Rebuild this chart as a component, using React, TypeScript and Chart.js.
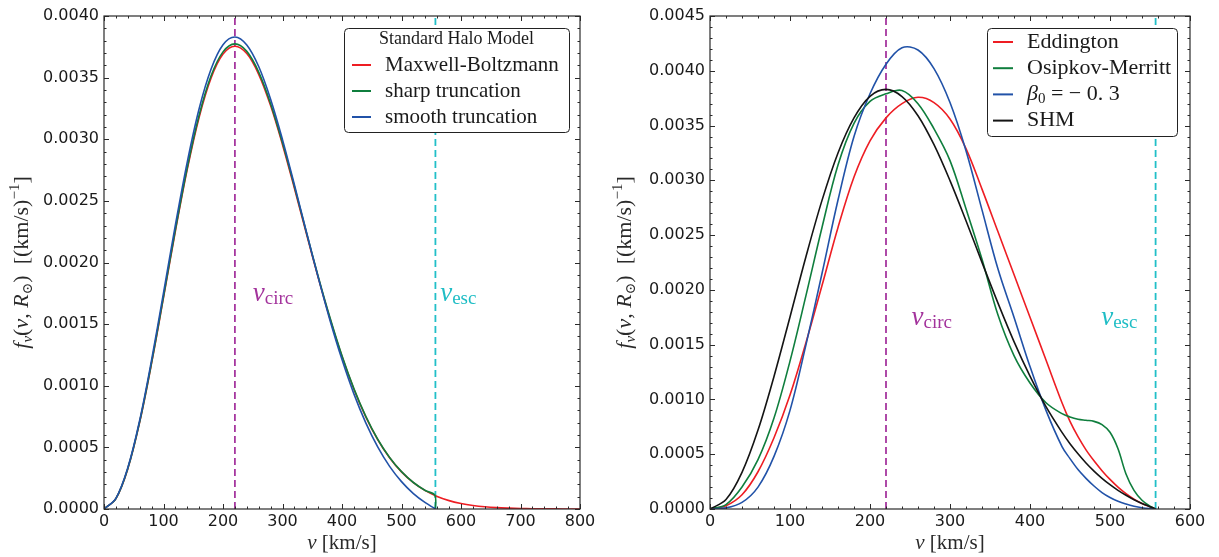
import React, { useEffect, useRef } from "react";
import { Chart, registerables } from "chart.js";

Chart.register(...registerables);

// ---------------- data ----------------
const V_CIRC = 220;
const V_ESC = 557;

// left panel: Standard Halo Model variants
const LEFT_V_MB = [0, 20, 40, 60, 80, 100, 120, 140, 160, 180, 200, 220, 240, 260, 280, 300, 320, 340, 360, 380, 400, 420, 440, 460, 480, 500, 520, 540, 560, 580, 600, 620, 640, 660, 680, 700, 720, 740, 760, 780, 800];
const LEFT_MAXWELL_BOLTZMANN = [0, 0.000084, 0.000326, 0.000705, 0.001183, 0.001715, 0.002255, 0.002757, 0.003181, 0.003498, 0.003691, 0.003755, 0.003695, 0.003527, 0.003273, 0.002956, 0.002603, 0.002237, 0.001878, 0.001541, 0.001237, 0.000972, 0.000748, 0.000563, 0.000416, 0.000301, 0.000214, 0.000149, 0.000102, 0.000068, 0.000045, 0.000029, 0.000018, 0.000011, 0.0000069, 0.000004, 0.0000023, 0.0000013, 0.0000007, 0.0000004, 0.0000002];
const LEFT_V_TRUNC = [0, 20, 40, 60, 80, 100, 120, 140, 160, 180, 200, 220, 240, 260, 280, 300, 320, 340, 360, 380, 400, 420, 440, 460, 480, 500, 520, 540, 556, 557];
const LEFT_SHARP = [0, 0.0000845, 0.000328, 0.000709, 0.001189, 0.001724, 0.002266, 0.002771, 0.003197, 0.003515, 0.003709, 0.003774, 0.003713, 0.003545, 0.003289, 0.002971, 0.002616, 0.002248, 0.001887, 0.001549, 0.001243, 0.000977, 0.000752, 0.000566, 0.000418, 0.000303, 0.000215, 0.00015, 0.000112, 0];
const LEFT_SMOOTH = [0, 0.000086, 0.000334, 0.00072, 0.00121, 0.001753, 0.002305, 0.002817, 0.00325, 0.00357, 0.003767, 0.00383, 0.003765, 0.00359, 0.003325, 0.002997, 0.002631, 0.002251, 0.001879, 0.001528, 0.001212, 0.000934, 0.000699, 0.000504, 0.000346, 0.000222, 0.000125, 0.000051, 0.000004, 0];

// right panel: self-consistent models
const RIGHT_V = [0, 20, 40, 60, 80, 100, 120, 140, 160, 180, 200, 220, 240, 260, 280, 300, 320, 340, 360, 380, 400, 420, 440, 450, 460, 470, 480, 490, 500, 510, 520, 530, 540, 550, 557];
const RIGHT_EDDINGTON = [0, 0.00003, 0.00013, 0.00034, 0.00065, 0.00104, 0.00152, 0.00204, 0.00257, 0.00303, 0.00336, 0.00357, 0.0037, 0.003758, 0.00371, 0.00356, 0.00329, 0.00292, 0.00253, 0.00214, 0.00175, 0.00136, 0.00097, 0.0008, 0.00066, 0.00054, 0.00044, 0.00035, 0.00027, 0.0002, 0.00014, 0.00009, 0.00005, 0.00002, 0];
const RIGHT_OSIPKOV_MERRITT = [0, 0.00004, 0.0002, 0.00045, 0.00083, 0.00135, 0.00195, 0.00257, 0.00314, 0.00352, 0.00372, 0.00379, 0.00382, 0.0037, 0.00347, 0.00318, 0.00274, 0.00228, 0.00177, 0.0014, 0.00115, 0.00097, 0.00087, 0.00084, 0.00082, 0.00081, 0.0008, 0.00077, 0.0007, 0.00055, 0.00032, 0.00017, 0.00008, 0.000025, 0];
const RIGHT_BETA = [0, 0.00001, 0.00006, 0.0002, 0.00048, 0.0009, 0.0015, 0.00215, 0.00282, 0.0034, 0.00379, 0.00406, 0.00421, 0.00419, 0.00402, 0.00371, 0.00327, 0.00273, 0.00219, 0.00175, 0.0013, 0.0009, 0.00057, 0.00046, 0.00036, 0.00028, 0.00021, 0.00015, 0.000105, 0.00007, 0.000045, 0.000025, 0.000011, 0.000003, 0];
const RIGHT_SHM = [0, 0.000086, 0.000334, 0.00072, 0.00121, 0.001753, 0.002305, 0.002817, 0.00325, 0.00357, 0.003767, 0.00383, 0.003765, 0.00359, 0.003325, 0.002997, 0.002631, 0.002251, 0.001879, 0.001528, 0.001212, 0.000934, 0.000699, 0.000596, 0.000504, 0.00042, 0.000346, 0.00028, 0.000222, 0.00017, 0.000125, 0.000085, 0.000051, 0.000021, 0];

const LEFT_X_RANGE = [0, 800];
const LEFT_Y_RANGE = [0, 0.004];
const RIGHT_X_RANGE = [0, 600];
const RIGHT_Y_RANGE = [0, 0.0045];
const X_STEP = 100;
const Y_STEP = 0.0005;

const LEFT_LEGEND_TITLE = "Standard Halo Model";
const LEFT_LABELS = ["Maxwell-Boltzmann", "sharp truncation", "smooth truncation"];
const RIGHT_LABELS = ["Eddington", "Osipkov-Merritt", "β0 = −0.3", "SHM"];

// ---------------- styles ----------------
const RED = "#ee1d23";
const GREEN = "#0f7e3d";
const BLUE = "#2152a8";
const BLACK = "#141414";
const PURPLE = "#a6379f";
const CYAN = "#22bfc8";
const AXIS = "#2a2a2a";
const TEXT = "#1a1a1a";
const SERIF = '"Liberation Serif", "DejaVu Serif", serif';
const SANS = '"DejaVu Sans", "Liberation Sans", sans-serif';

type Seg = { t: string; size?: number; italic?: boolean; dy?: number };

const fontOf = (s: Seg, def: number) => `${s.italic ? "italic " : ""}${s.size || def}px ${SERIF}`;

function segsWidth(ctx: CanvasRenderingContext2D, segs: Seg[], def = 20) {
  let w = 0;
  for (const s of segs) {
    ctx.font = fontOf(s, def);
    w += ctx.measureText(s.t).width;
  }
  return w;
}

function drawSegs(ctx: CanvasRenderingContext2D, segs: Seg[], x: number, y: number, def = 20) {
  let cx = x;
  for (const s of segs) {
    ctx.font = fontOf(s, def);
    ctx.fillText(s.t, cx, y + (s.dy || 0));
    cx += ctx.measureText(s.t).width;
  }
}

const Y_TITLE: Seg[] = [
  { t: "f", size: 22, italic: true },
  { t: "v", size: 15, italic: true, dy: 4 },
  { t: "(", size: 22 },
  { t: "v", size: 22, italic: true },
  { t: ", ", size: 22 },
  { t: "R", size: 22, italic: true },
  { t: "⊙", size: 14, dy: 4 },
  { t: ")", size: 22 },
  { t: "  [(km/s)", size: 22 },
  { t: "−1", size: 15, dy: -9 },
  { t: "]", size: 22 },
];
const X_TITLE: Seg[] = [
  { t: "v", size: 21, italic: true },
  { t: " [km/s]", size: 21 },
];
const V_CIRC_TEXT: Seg[] = [
  { t: "v", size: 27, italic: true },
  { t: "circ", size: 19, dy: 3 },
];
const V_ESC_TEXT: Seg[] = [
  { t: "v", size: 27, italic: true },
  { t: "esc", size: 19, dy: 3 },
];
const RICH_LABELS: Record<string, Seg[]> = {
  "β0 = −0.3": [
    { t: "β", italic: true },
    { t: "0", size: 15, dy: 5 },
    { t: " = − 0. 3" },
  ],
};

const pts = (xs: number[], ys: number[]) => xs.map((x, i) => ({ x, y: ys[i] }));

function decoPlugin(spec: any) {
  return {
    id: "deco",
    afterDraw(chart: any) {
      const { ctx, chartArea: a } = chart;
      const xs = chart.scales.x;
      const ys = chart.scales.y;
      const line = (x1: number, y1: number, x2: number, y2: number) => {
        ctx.beginPath();
        ctx.moveTo(x1, y1);
        ctx.lineTo(x2, y2);
        ctx.stroke();
      };
      ctx.save();
      // inward ticks on all four sides
      ctx.strokeStyle = AXIS;
      ctx.lineWidth = 1;
      const nX = Math.round((xs.max - xs.min) / spec.xStep) * 5;
      for (let i = 0; i <= nX; i++) {
        const px = Math.round(xs.getPixelForValue(xs.min + (i * spec.xStep) / 5)) + 0.5;
        const len = i % 5 === 0 ? 5 : 2.5;
        line(px, a.bottom, px, a.bottom - len);
        line(px, a.top, px, a.top + len);
      }
      const nY = Math.round((ys.max - ys.min) / spec.yStep) * 5;
      for (let i = 0; i <= nY; i++) {
        const py = Math.round(ys.getPixelForValue(ys.min + (i * spec.yStep) / 5)) + 0.5;
        const len = i % 5 === 0 ? 5 : 2.5;
        line(a.left, py, a.left + len, py);
        line(a.right, py, a.right - len, py);
      }
      ctx.lineWidth = 1.2;
      ctx.strokeRect(a.left, a.top, a.right - a.left, a.bottom - a.top);

      // v_circ / v_esc annotations
      ctx.textAlign = "left";
      ctx.textBaseline = "alphabetic";
      for (const n of spec.notes) {
        ctx.fillStyle = n.color;
        drawSegs(ctx, n.segs, xs.getPixelForValue(n.x), ys.getPixelForValue(n.y));
      }

      // axis titles
      ctx.fillStyle = "#2a2a2a";
      const xw = segsWidth(ctx, X_TITLE);
      drawSegs(ctx, X_TITLE, (a.left + a.right) / 2 - xw / 2, spec.xTitleBaseline);
      ctx.save();
      ctx.translate(spec.yTitleBaseline, (a.top + a.bottom) / 2);
      ctx.rotate(-Math.PI / 2);
      const yw = segsWidth(ctx, Y_TITLE);
      drawSegs(ctx, Y_TITLE, -yw / 2, 0);
      ctx.restore();

      // legend box
      const L = spec.legend;
      const left = a.right - L.marginRight - L.width;
      const top = a.top + L.marginTop;
      ctx.beginPath();
      ctx.roundRect(Math.round(left) + 0.5, Math.round(top) + 0.5, L.width, L.height, 4);
      ctx.fillStyle = "#ffffff";
      ctx.fill();
      ctx.strokeStyle = "#222";
      ctx.lineWidth = 1;
      ctx.stroke();
      ctx.textBaseline = "middle";
      if (L.title) {
        ctx.fillStyle = TEXT;
        ctx.textAlign = "center";
        ctx.font = `${L.titleSize}px ${SERIF}`;
        ctx.fillText(L.title, left + L.width / 2, top + L.titleY);
      }
      ctx.textAlign = "left";
      const items = chart.data.datasets.filter((d: any) => d.legendIndex !== undefined).sort((p: any, q: any) => p.legendIndex - q.legendIndex);
      items.forEach((d: any, i: number) => {
        const y = top + L.row0 + i * L.rowGap;
        ctx.strokeStyle = d.borderColor;
        ctx.lineWidth = 2;
        line(left + L.line0, y, left + L.line1, y);
        ctx.fillStyle = TEXT;
        const segs = RICH_LABELS[d.label] || [{ t: d.label }];
        drawSegs(ctx, segs, left + L.textX, y, L.size);
      });
      ctx.restore();
    },
  };
}

function baseOptions(xr: number[], yr: number[], yAxisWidth: number, padRight: number) {
  return {
    responsive: false,
    animation: false,
    events: [],
    layout: { padding: { top: 16, right: padRight, left: 0, bottom: 0 } },
    elements: {
      point: { radius: 0 },
      line: { borderWidth: 1.6, cubicInterpolationMode: "default", tension: 0.35, fill: false },
    },
    scales: {
      x: {
        type: "linear",
        min: xr[0],
        max: xr[1],
        grid: { display: false, drawTicks: false },
        border: { display: false },
        ticks: {
          stepSize: X_STEP,
          padding: 3,
          color: TEXT,
          maxRotation: 0,
          font: { family: SANS, size: 16 },
          callback: (v: any) => String(v),
        },
        afterFit: (s: any) => {
          s.height = 48;
        },
      },
      y: {
        type: "linear",
        min: yr[0],
        max: yr[1],
        grid: { display: false, drawTicks: false },
        border: { display: false },
        ticks: {
          stepSize: Y_STEP,
          padding: 5,
          color: TEXT,
          font: { family: SANS, size: 16 },
          callback: (v: any) => Number(v).toFixed(4),
        },
        afterFit: (s: any) => {
          s.width = yAxisWidth;
        },
      },
    },
    plugins: { legend: { display: false }, tooltip: { enabled: false } },
  };
}

const vline = (x: number, ymax: number, color: string) => ({
  data: [
    { x, y: 0 },
    { x, y: ymax },
  ],
  borderColor: color,
  borderWidth: 1.8,
  borderDash: [7, 4],
  tension: 0,
  order: 10,
});

function leftConfig(): any {
  return {
    type: "line",
    data: {
      datasets: [
        { label: LEFT_LABELS[0], legendIndex: 0, data: pts(LEFT_V_MB, LEFT_MAXWELL_BOLTZMANN), borderColor: RED, order: 3 },
        { label: LEFT_LABELS[1], legendIndex: 1, data: pts(LEFT_V_TRUNC, LEFT_SHARP), borderColor: GREEN, order: 2 },
        { label: LEFT_LABELS[2], legendIndex: 2, data: pts(LEFT_V_TRUNC, LEFT_SMOOTH), borderColor: BLUE, order: 1 },
        vline(V_CIRC, LEFT_Y_RANGE[1], PURPLE),
        vline(V_ESC, LEFT_Y_RANGE[1], CYAN),
      ],
    },
    options: baseOptions(LEFT_X_RANGE, LEFT_Y_RANGE, 104, 20),
    plugins: [
      decoPlugin({
        xStep: X_STEP,
        yStep: Y_STEP,
        xTitleBaseline: 549,
        yTitleBaseline: 28,
        notes: [
          { segs: V_CIRC_TEXT, x: 250, y: 0.00169, color: "#a3339c" },
          { segs: V_ESC_TEXT, x: 565, y: 0.00169, color: "#1fbdc5" },
        ],
        legend: {
          title: LEFT_LEGEND_TITLE,
          titleSize: 18,
          titleY: 11,
          marginRight: 11,
          marginTop: 12,
          width: 225,
          height: 104,
          row0: 37,
          rowGap: 26,
          line0: 8,
          line1: 27,
          textX: 41,
          size: 21,
        },
      }),
    ],
  };
}

function rightConfig(): any {
  return {
    type: "line",
    data: {
      datasets: [
        { label: RIGHT_LABELS[0], legendIndex: 0, data: pts(RIGHT_V, RIGHT_EDDINGTON), borderColor: RED, order: 4 },
        { label: RIGHT_LABELS[1], legendIndex: 1, data: pts(RIGHT_V, RIGHT_OSIPKOV_MERRITT), borderColor: GREEN, order: 3 },
        { label: RIGHT_LABELS[2], legendIndex: 2, data: pts(RIGHT_V, RIGHT_BETA), borderColor: BLUE, order: 2 },
        { label: RIGHT_LABELS[3], legendIndex: 3, data: pts(RIGHT_V, RIGHT_SHM), borderColor: BLACK, order: 1 },
        vline(V_CIRC, RIGHT_Y_RANGE[1], PURPLE),
        vline(V_ESC, RIGHT_Y_RANGE[1], CYAN),
      ],
    },
    options: baseOptions(RIGHT_X_RANGE, RIGHT_Y_RANGE, 110, 29),
    plugins: [
      decoPlugin({
        xStep: X_STEP,
        yStep: Y_STEP,
        xTitleBaseline: 549,
        yTitleBaseline: 31,
        notes: [
          { segs: V_CIRC_TEXT, x: 252, y: 0.00168, color: "#a3339c" },
          { segs: V_ESC_TEXT, x: 489, y: 0.00168, color: "#1fbdc5" },
        ],
        legend: {
          title: null,
          marginRight: 13,
          marginTop: 12,
          width: 190,
          height: 108,
          row0: 14,
          rowGap: 26.2,
          line0: 6,
          line1: 26,
          textX: 40,
          size: 22,
        },
      }),
    ],
  };
}

function ChartCanvas({ make, left, width }: { make: () => any; left: number; width: number }) {
  const ref = useRef<HTMLCanvasElement | null>(null);
  useEffect(() => {
    const chart = new Chart(ref.current as HTMLCanvasElement, make());
    return () => chart.destroy();
  }, []);
  return (
    <canvas
      ref={ref}
      width={width}
      height={557}
      style={{ position: "absolute", left, top: 0, width, height: 557 }}
    />
  );
}

export default function App() {
  return (
    <div style={{ position: "absolute", left: 0, top: 0, width: 1219, height: 557, background: "#ffffff", overflow: "hidden" }}>
      <ChartCanvas make={leftConfig} left={0} width={600} />
      <ChartCanvas make={rightConfig} left={600} width={619} />
    </div>
  );
}
